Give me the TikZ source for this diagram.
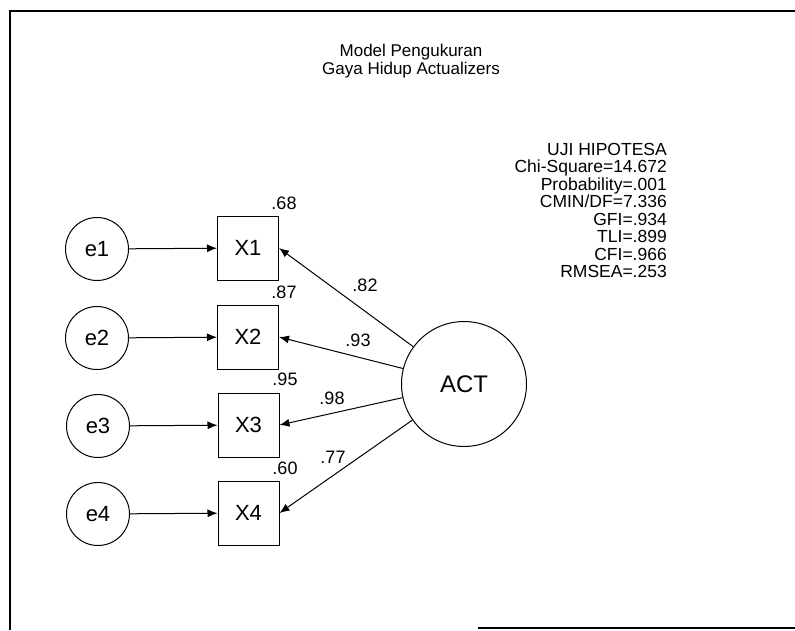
\documentclass[tikz,border=0pt]{standalone}
\usepackage{fontspec}
\setmainfont{Liberation Sans}
\usetikzlibrary{arrows.meta}
\begin{document}
\begin{tikzpicture}[x=1pt,y=-1pt,
  ln/.style={line width=1pt},
  obs/.style={draw,ln,minimum width=61pt,minimum height=64pt,inner sep=0pt,font=\fontsize{22}{24}\selectfont},
  err/.style={draw,ln,circle,minimum size=63pt,inner sep=0pt,font=\fontsize{22}{24}\selectfont},
  lat/.style={draw,ln,circle,minimum size=125pt,inner sep=0pt,font=\fontsize{24}{26}\selectfont},
  arr/.style={ln,-{Latex[length=10pt,width=8pt]}},
  num/.style={font=\fontsize{18}{20}\selectfont,inner sep=0pt},
  ttl/.style={font=\fontsize{17}{17.5}\selectfont,align=center,inner sep=0pt},
  stat/.style={font=\fontsize{17.5}{17.5}\selectfont,align=right,inner sep=0pt}]
\useasboundingbox (0,0) rectangle (795,630);
% frame
\draw[line width=1.5pt] (10,630) -- (10,11) -- (795,11);
\draw[line width=1.5pt] (478,628) -- (795,628);
% title
\node[ttl] (title) at (411,61) {Model Pengukuran\\Gaya Hidup Actualizers};
% stats
\node[stat,anchor=north east] (stats) at (667,143) {UJI HIPOTESA\\Chi-Square=14.672\\Probability=.001\\CMIN/DF=7.336\\GFI=.934\\TLI=.899\\CFI=.966\\RMSEA=.253};
% observed
\node[obs] (X1) at (248,248) {X1};
\node[obs] (X2) at (248,337) {X2};
\node[obs] (X3) at (248.5,425) {X3};
\node[obs] (X4) at (248.5,513) {X4};
% errors
\node[err] (e1) at (97,249) {e1};
\node[err] (e2) at (97,338) {e2};
\node[err] (e3) at (98,426) {e3};
\node[err] (e4) at (98,514) {e4};
% latent
\node[lat] (ACT) at (464,384) {ACT};
% arrows
\draw[arr] (e1) -- (X1);
\draw[arr] (e2) -- (X2);
\draw[arr] (e3) -- (X3);
\draw[arr] (e4) -- (X4);
\draw[arr] (ACT) -- (X1.east);
\draw[arr] (ACT) -- (X2.east);
\draw[arr] (ACT) -- (X3.east);
\draw[arr] (ACT) -- (X4.east);
% R squared
\node[num] (r1) at (284,203) {.68};
\node[num] (r2) at (284,292) {.87};
\node[num] (r3) at (285,379) {.95};
\node[num] (r4) at (285,468) {.60};
% loadings
\node[num] (l1) at (365,285) {.82};
\node[num] (l2) at (358,340) {.93};
\node[num] (l3) at (332,398) {.98};
\node[num] (l4) at (333,457) {.77};
\end{tikzpicture}
\end{document}
